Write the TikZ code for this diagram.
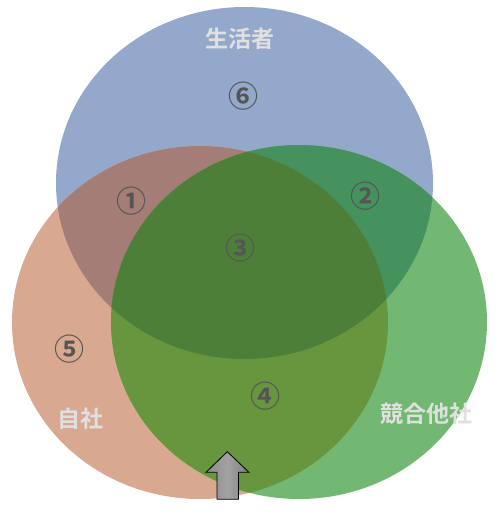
\documentclass[tikz,border=0pt]{standalone}
\usepackage{fontspec}
\newfontfamily\jp{Noto Sans CJK JP}[BoldFont={Noto Sans CJK JP Bold}]
\definecolor{cB}{HTML}{94A8CB}
\definecolor{cR}{HTML}{D8A990}
\definecolor{cG}{HTML}{72B872}
\definecolor{cBR}{HTML}{A47E76}
\definecolor{cBG}{HTML}{45925F}
\definecolor{cRG}{HTML}{68963F}
\definecolor{cAll}{HTML}{4E7F38}
\definecolor{labelc}{HTML}{E0E0E0}
\definecolor{numc}{HTML}{555555}
\definecolor{arL}{HTML}{8A8A8A}
\definecolor{arM}{HTML}{A2A2A2}
\definecolor{arR}{HTML}{808080}
\tikzset{
  setlabel/.style={font=\jp\bfseries\fontsize{23}{23}\selectfont, text=labelc, inner sep=0pt},
  numlabel/.style={font=\jp\bfseries\fontsize{30}{30}\selectfont, text=numc, inner sep=0pt},
}
\newcommand{\ellB}{(244.5,183) ellipse [x radius=188.5pt, y radius=176pt]}
\newcommand{\ellR}{(200,322.5) ellipse [x radius=188pt, y radius=176.5pt]}
\newcommand{\ellG}{(299,322) ellipse [x radius=188pt, y radius=177pt]}
\begin{document}
\begin{tikzpicture}[x=1pt,y=-1pt]
\useasboundingbox (0,0) rectangle (496,512);
\fill[cB] \ellB;
\fill[cR] \ellR;
\fill[cG] \ellG;
\begin{scope}
  \clip \ellB;
  \fill[cBR] \ellR;
  \fill[cBG] \ellG;
\end{scope}
\begin{scope}
  \clip \ellR;
  \fill[cRG] \ellG;
\end{scope}
\begin{scope}
  \clip \ellB;
  \clip \ellR;
  \fill[cAll] \ellG;
\end{scope}
\node[setlabel] (consumer) at (240,38.5) {生活者};
\node[setlabel] (self) at (80.5,419) {自社};
\node[setlabel] (rival) at (426,414) {競合他社};
\node[numlabel] (n6) at (243.5,96.5) {⑥};
\node[numlabel] (n1) at (131,201) {①};
\node[numlabel] (n2) at (365.5,196.5) {②};
\node[numlabel] (n3) at (240.5,248.5) {③};
\node[numlabel] (n4) at (265,396) {④};
\node[numlabel] (n5) at (69,349.5) {⑤};
\shade[left color=arL, right color=arR, middle color=arM, draw=black, line width=0.8pt]
  (227.3,451.7) -- (249,472.3) -- (238.5,472.3) -- (238.5,499.3) -- (217,499.3) -- (217,472.3) -- (206,472.3) -- cycle;
\end{tikzpicture}
\end{document}
